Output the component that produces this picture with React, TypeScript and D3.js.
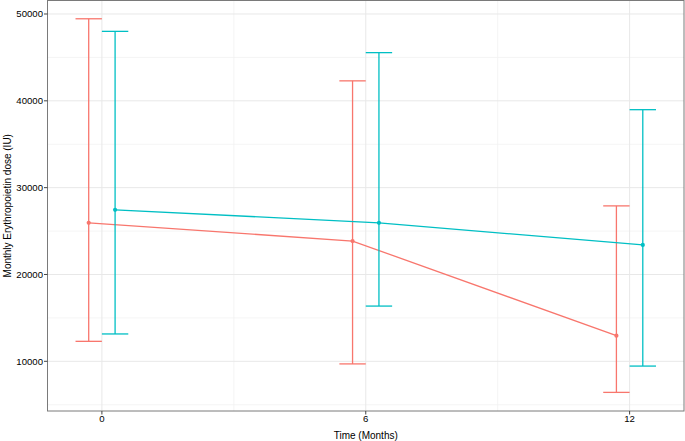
import React from "react";
import { scaleLinear, line } from "d3";

// chart size / panel placement
const width = 685;
const height = 441;
const panel = { left: 47.5, right: 684, top: 0.5, bottom: 411 };

// data
const months = [0, 6, 12];
const groups = ["A", "B"];
const groupColors = ["#F8766D", "#00BFC4"];
const meanA = [25950, 23850, 12950];
const lowA = [12300, 9700, 6420];
const highA = [49450, 42300, 27900];
const meanB = [27450, 25950, 23400];
const lowB = [13150, 16360, 9450];
const highB = [48000, 45550, 38980];

const yTicks = [10000, 20000, 30000, 40000, 50000];
const yMinor = [5000, 15000, 25000, 35000, 45000];
const xMinor = [3, 9];

const dodge = 0.3;
const capHalf = 0.3;

const font = "'Liberation Sans', Arial, Helvetica, sans-serif";

export default function App() {
  const x = scaleLinear().domain([-1.237, 13.237]).range([panel.left, panel.right]);
  const y = scaleLinear().domain([4276, 51612]).range([panel.bottom, 0]);

  const series = [
    { mean: meanA, low: lowA, high: highA, off: -dodge, color: groupColors[0] },
    { mean: meanB, low: lowB, high: highB, off: dodge, color: groupColors[1] },
  ];

  const path = line<[number, number]>()
    .x((d) => x(d[0]))
    .y((d) => y(d[1]));

  return (
    <svg
      width={width}
      height={height}
      style={{ position: "absolute", left: 0, top: 0, background: "#fff" }}
      fontFamily={font}
    >
      {/* minor grid */}
      {yMinor.map((v) => (
        <line key={"ym" + v} x1={panel.left} x2={panel.right} y1={y(v)} y2={y(v)} stroke="#f1f1f1" strokeWidth={0.8} />
      ))}
      {xMinor.map((v) => (
        <line key={"xm" + v} x1={x(v)} x2={x(v)} y1={panel.top} y2={panel.bottom} stroke="#f1f1f1" strokeWidth={0.8} />
      ))}
      {/* major grid */}
      {yTicks.map((v) => (
        <line key={"y" + v} x1={panel.left} x2={panel.right} y1={y(v)} y2={y(v)} stroke="#e8e8e8" strokeWidth={1} />
      ))}
      {months.map((v) => (
        <line key={"x" + v} x1={x(v)} x2={x(v)} y1={panel.top} y2={panel.bottom} stroke="#e8e8e8" strokeWidth={1} />
      ))}

      {/* error bars, lines and points */}
      {series.map((s, si) => (
        <g key={groups[si]} stroke={s.color} fill="none" strokeWidth={1.3}>
          {months.map((m, i) => {
            const cx = m + s.off;
            return (
              <g key={m}>
                <line x1={x(cx)} x2={x(cx)} y1={y(s.low[i])} y2={y(s.high[i])} />
                <line x1={x(cx - capHalf)} x2={x(cx + capHalf)} y1={y(s.high[i])} y2={y(s.high[i])} />
                <line x1={x(cx - capHalf)} x2={x(cx + capHalf)} y1={y(s.low[i])} y2={y(s.low[i])} />
              </g>
            );
          })}
          <path d={path(months.map((m, i) => [m + s.off, s.mean[i]]) as [number, number][]) || ""} />
          {months.map((m, i) => (
            <circle key={"p" + m} cx={x(m + s.off)} cy={y(s.mean[i])} r={2.1} fill={s.color} stroke="none" />
          ))}
        </g>
      ))}

      {/* panel border */}
      <rect
        x={panel.left}
        y={panel.top}
        width={panel.right - panel.left}
        height={panel.bottom - panel.top}
        fill="none"
        stroke="#7a7a7a"
        strokeWidth={1}
      />

      {/* y axis */}
      {yTicks.map((v) => (
        <g key={"yt" + v}>
          <line x1={panel.left - 3.5} x2={panel.left} y1={y(v)} y2={y(v)} stroke="#444" strokeWidth={1} />
          <text x={panel.left - 4.5} y={y(v)} dy="0.35em" textAnchor="end" fontSize={9.6} fill="#000">
            {v}
          </text>
        </g>
      ))}
      {/* x axis */}
      {months.map((v) => (
        <g key={"xt" + v}>
          <line x1={x(v)} x2={x(v)} y1={panel.bottom} y2={panel.bottom + 3.5} stroke="#444" strokeWidth={1} />
          <text x={x(v)} y={421.5} textAnchor="middle" fontSize={9.6} fill="#000">
            {v}
          </text>
        </g>
      ))}

      {/* axis titles */}
      <text x={x(6)} y={439} textAnchor="middle" fontSize={10} fill="#000">
        Time (Months)
      </text>
      <text
        transform={`translate(11,${(panel.top + panel.bottom) / 2}) rotate(-90)`}
        textAnchor="middle"
        fontSize={10}
        fill="#000"
      >
        Monthly Erythropoietin dose (IU)
      </text>
    </svg>
  );
}
